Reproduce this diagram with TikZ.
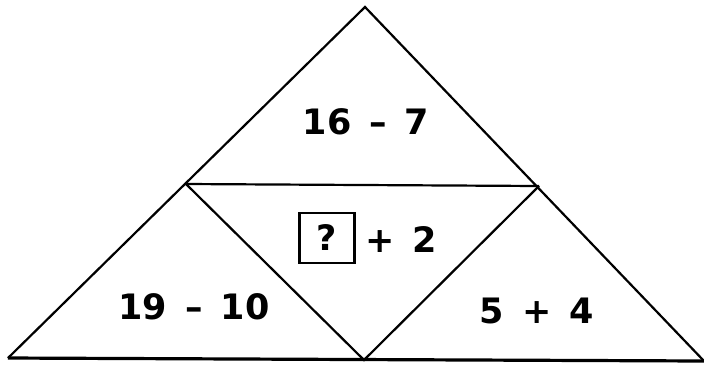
\documentclass[tikz,border=0pt]{standalone}
\usepackage{fontspec}
\setmainfont{DejaVu Sans}
\begin{document}
\begin{tikzpicture}[x=0.5pt,y=-0.5pt,line width=1.1pt,
    sum/.style={font=\fontsize{17.5}{20}\selectfont\bfseries,inner sep=0pt}]
	  \useasboundingbox (0,0) rectangle (704,365);
	  \coordinate (top) at (365,7);
	  \coordinate (bl) at (8,358);
	  \coordinate (br) at (704,361);
	  \coordinate (ml) at (186,184);
	  \coordinate (mr) at (539,186);
	  \coordinate (mb) at (364,360);
	  \draw (bl) -- (top) -- (br);
	  \draw[line width=1.6pt] (bl) -- (br);
	  \draw (ml) -- (mr);
	  \draw (ml) -- (mb) -- (mr);
	  \node[sum] (t1) at (366,122) {16 \,–\, 7};
	  \node[sum,draw,line width=1.2pt,minimum width=27.5pt,minimum height=25pt] (q) at (327,238) {?};
	  \node[sum] (t2) at (401,240) {+\, 2};
	  \node[sum] (t3) at (194,307) {19 \,–\, 10};
	  \node[sum] (t4) at (537,311) {5 \,+\, 4};
	\end{tikzpicture}
\end{document}
